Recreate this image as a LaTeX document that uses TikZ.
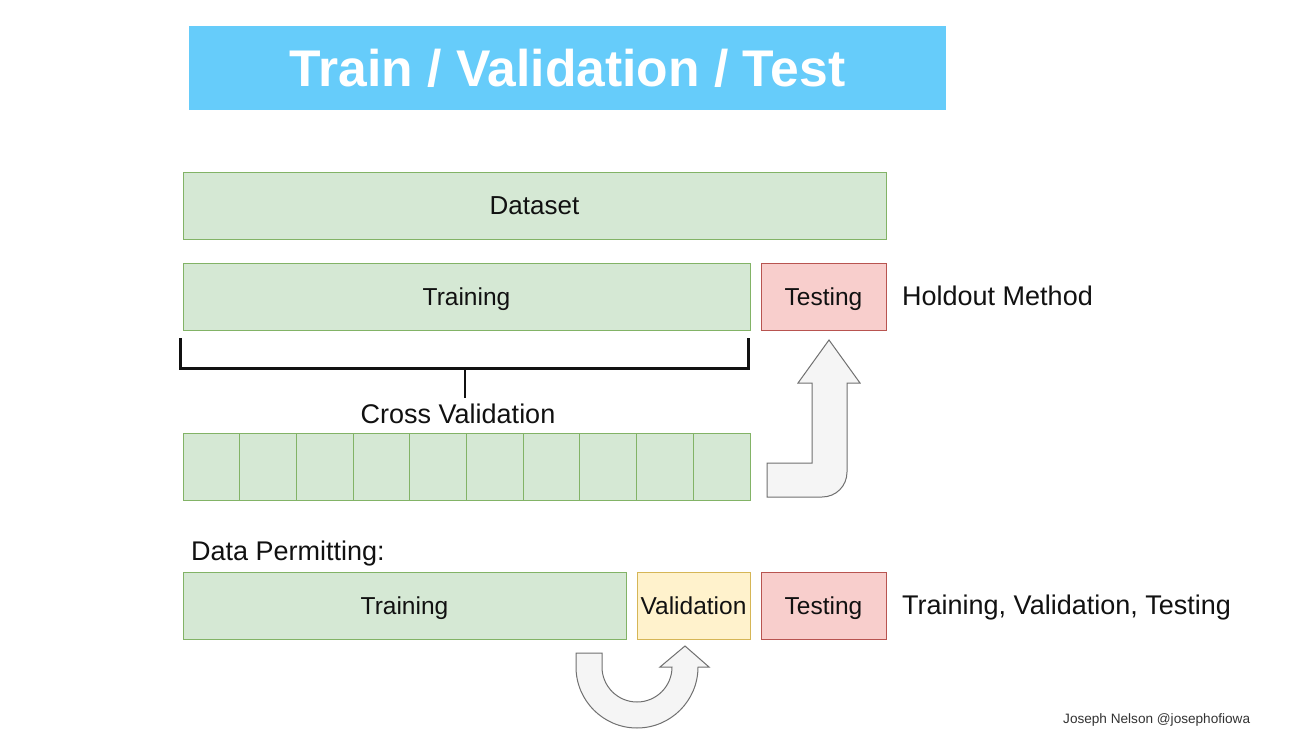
\documentclass[tikz,border=0pt]{standalone}
\usepackage{fontspec}
\setmainfont{Liberation Sans}
\usetikzlibrary{positioning,calc}

\definecolor{greenfill}{HTML}{D5E8D4}
\definecolor{greenline}{HTML}{82B366}
\definecolor{redfill}{HTML}{F8CECC}
\definecolor{redline}{HTML}{B85450}
\definecolor{yellowfill}{HTML}{FFF2CC}
\definecolor{yellowline}{HTML}{D6B656}
\definecolor{titleblue}{HTML}{66CCFA}
\definecolor{arrowfill}{HTML}{F5F5F5}
\definecolor{arrowline}{HTML}{707070}
\definecolor{inktext}{HTML}{111111}

\begin{document}
\begin{tikzpicture}[
  x=1pt, y=-1pt, % one unit = one pixel of the slide, y pointing down
  box/.style    ={draw, line width=0.9pt, inner sep=0pt, minimum height=67pt,
                  text height=17.5pt, text depth=0pt, text=inktext,
                  font=\fontsize{24.5}{29}\selectfont},
  greenbox/.style ={box, fill=greenfill, draw=greenline},
  redbox/.style   ={box, fill=redfill, draw=redline},
  yellowbox/.style={box, fill=yellowfill, draw=yellowline},
  titlebox/.style ={fill=titleblue, text=white, inner sep=0pt,
                    minimum width=757pt, minimum height=84pt,
                    font=\fontsize{51.6}{60}\selectfont\bfseries},
  side/.style   ={anchor=base west, inner sep=0pt, text=inktext,
                  font=\fontsize{27}{32}\selectfont},
  bracket/.style={draw=inktext, line width=2.2pt},
  bigarrow/.style={fill=arrowfill, draw=arrowline, line width=1pt, line join=miter}
]

% background, fixes the page size
\fill[white] (0,0) rectangle (1296,738);

% ==================================================
% TITLE BAR
% ==================================================
\node[titlebox] (title) at (567.5,68) {Train / Validation / Test};

% ==================================================
% DATASET + HOLDOUT
% ==================================================
\node[greenbox, minimum width=703pt, font=\fontsize{26}{30}\selectfont] (dataset) at (534.5,206) {Dataset};

\node[greenbox, minimum width=567pt] (train) at (466.5,296.5) {Training};
\node[redbox,   minimum width=125pt] (test)  at (823.5,296.5) {Testing};
\node[side] (holdout) at (902,305.7) {Holdout Method};

% bracket under training
\draw[bracket] ([xshift=-2pt,yshift=-8pt]train.south west)
  |- ([xshift=-2pt,yshift=-38pt]train.south east)
  -- ([xshift=-2pt,yshift=-8pt]train.south east);

% ==================================================
% CROSS VALIDATION (10 folds)
% ==================================================
\node[side, anchor=base] (cvlabel) at (458,423.7) {Cross Validation};
\draw[bracket] ([xshift=-1.5pt,yshift=-38pt]train.south) -- ++(0,30);

\foreach \i in {1,...,10} {
  \node[greenbox, minimum width=56.7pt] (fold\i) at ({183+56.7*(\i-0.5)},466.5) {};
}

% bent arrow: folds -> testing
\draw[bigarrow] (829,340) -- (860,383) -- (847,383) -- (847,472)
  .. controls (847,486) and (836,497) .. (822,497)
  -- (767,497) -- (767,463) -- (812,463) -- (812,383) -- (798,383) -- cycle;

% ==================================================
% DATA PERMITTING: TRAIN / VALIDATION / TEST
% ==================================================
\node[side] (permit) at (191,560.7) {Data Permitting:};

\node[greenbox,  minimum width=443pt] (trainb) at (404.5,605.5) {Training};
\node[yellowbox, minimum width=113pt] (valid)  at (693.5,605.5) {Validation};
\node[redbox,    minimum width=125pt] (testb)  at (823.5,605.5) {Testing};
\node[side] (tvtlabel) at (902,614.7) {Training, Validation, Testing};

% u-turn arrow under training / validation
\draw[bigarrow] (576,653) -- (576,667)
  .. controls (576,700.7) and (603.3,728) .. (637,728)
  .. controls (670.7,728) and (698,700.7) .. (698,667)
  -- (709,667) -- (685,646) -- (660,667) -- (672,667)
  .. controls (672,686.3) and (656.3,702) .. (637,702)
  .. controls (617.7,702) and (602,686.3) .. (602,667)
  -- (602,653) -- cycle;

% credit
\node[side, text=black!80, font=\fontsize{13.6}{16}\selectfont] (credit) at (1063,723) {Joseph Nelson @josephofiowa};

\end{tikzpicture}
\end{document}
